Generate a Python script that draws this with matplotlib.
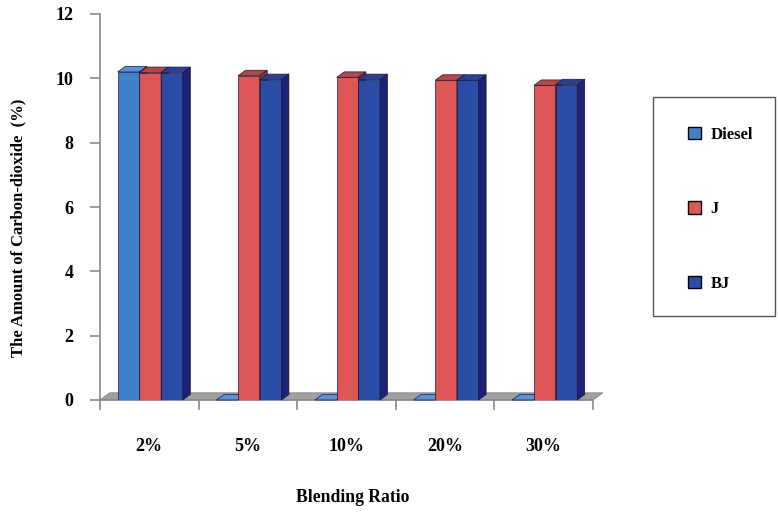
import matplotlib
matplotlib.use("Agg")
import matplotlib.pyplot as plt
from matplotlib.patches import Polygon, Rectangle, Patch
import numpy as np

categories = ["2%", "5%", "10%", "20%", "30%"]
series_names = ["Diesel", "J", "BJ"]
diesel = [10.2, 0.0, 0.0, 0.0, 0.0]
j_vals = [10.18, 10.08, 10.03, 9.94, 9.78]
bj_vals = [10.18, 9.96, 9.96, 9.94, 9.8]
yticks = [0, 2, 4, 6, 8, 10, 12]

front_colors = ["#4181CB", "#DE5656", "#2C4DA6"]
top_colors = ["#5A92D6", "#B84545", "#2B3F96"]
side_colors = ["#2E5E9E", "#8E3434", "#1D2275"]
edge = "#1a1a3a"

plt.rcParams['font.family'] = ['Liberation Serif', 'DejaVu Serif']
plt.rcParams['font.weight'] = 'bold'

fig = plt.figure(figsize=(7.78, 5.14), dpi=100)
L, R = 100 / 778, 593 / 778
B, T = (514 - 400) / 514, (514 - 14) / 514
ax = fig.add_axes([L, B, R - L, T - B])
ax.set_xlim(-0.5, 4.5)
ax.set_ylim(0, 12)
ax.patch.set_visible(False)

# depth offsets in data units (approx 8px right, 5px up)
px_x = (R - L) * 778 / 5.0
px_y = (T - B) * 514 / 12.0
dx = 7.5 / px_x
dy = 5.5 / px_y

# floor
floor = Polygon([(-0.5, 0), (4.5, 0), (4.5 + dx * 1.3, dy * 1.3), (-0.5 + dx * 1.3, dy * 1.3)],
                closed=True, facecolor="#A0A0A0", edgecolor="#808080", lw=0.6,
                clip_on=False, zorder=1)
ax.add_patch(floor)

bw = 0.22
data = [diesel, j_vals, bj_vals]
x = np.arange(len(categories))
for ci in range(len(categories)):
    for si in range(3):
        v = data[si][ci]
        x0 = x[ci] + (si - 1.5) * bw + 0.01
        z = 2 + ci * 3 + si
        # front
        ax.bar(x0, v, width=bw, align='edge', color=front_colors[si],
               edgecolor=edge, linewidth=0.5, zorder=z)
        # top
        top = Polygon([(x0, v), (x0 + bw, v), (x0 + bw + dx, v + dy), (x0 + dx, v + dy)],
                      closed=True, facecolor=top_colors[si], edgecolor=edge, lw=0.5,
                      zorder=z, clip_on=False)
        ax.add_patch(top)
        # side
        side = Polygon([(x0 + bw, 0), (x0 + bw + dx, dy), (x0 + bw + dx, v + dy), (x0 + bw, v)],
                       closed=True, facecolor=side_colors[si], edgecolor=edge, lw=0.5,
                       zorder=z, clip_on=False)
        ax.add_patch(side)

for s in ["top", "right"]:
    ax.spines[s].set_visible(False)
ax.spines["left"].set_color("#8a8a8a")
ax.spines["left"].set_linewidth(1.2)
ax.spines["bottom"].set_visible(False)
ax.axhline(0, color="#8a8a8a", lw=1.2, zorder=1.5, clip_on=False)

ax.set_yticks(yticks)
ax.set_yticklabels([str(t) for t in yticks], fontsize=13, fontweight='bold')
ax.tick_params(axis='y', length=7, width=1.2, color="#8a8a8a", pad=12)

ax.set_xticks(np.arange(-0.5, 5.0, 1.0), minor=False)
ax.set_xticklabels([])
ax.tick_params(axis='x', length=7, width=1.2, color="#8a8a8a")
for i, c in enumerate(categories):
    ax.text(x[i], -1.45, c, ha='center', va='center', fontsize=13, fontweight='bold')

fig.text(353 / 778, 1 - 497 / 514, "Blending Ratio", ha='center', va='center',
         fontsize=12.7, fontweight='bold')
fig.text(18 / 778, 1 - 228 / 514, "The Amount of Carbon-dioxide  (%)", ha='center',
         va='center', rotation=90, fontsize=12, fontweight='bold')

# legend box
fig.patches.append(Rectangle((653 / 778, 1 - 316 / 514), 122 / 778, 219 / 514,
                             transform=fig.transFigure, facecolor='white',
                             edgecolor='#555555', lw=1.0, zorder=0))
handles = [Patch(facecolor=front_colors[i], edgecolor='black', lw=1.0) for i in range(3)]
leg = fig.legend(handles, series_names, loc='upper left',
                 bbox_to_anchor=(673 / 778, 1 - 112 / 514), frameon=False,
                 prop={'weight': 'bold', 'size': 12},
                 handlelength=0.75, handleheight=0.75, labelspacing=3.5, handletextpad=0.6)

fig.savefig("out.png", dpi=100)
